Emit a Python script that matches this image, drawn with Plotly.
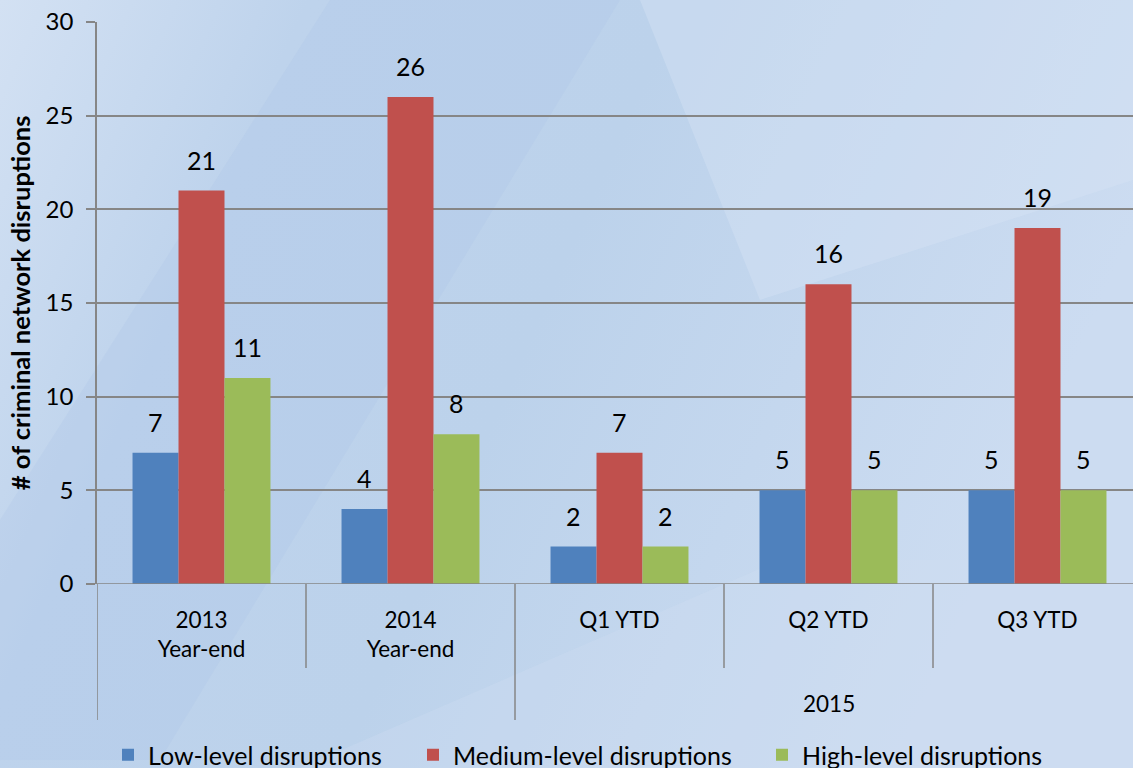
import plotly.graph_objects as go
import base64

categories = ["2013<br>Year-end", "2014<br>Year-end", "Q1 YTD", "Q2 YTD", "Q3 YTD"]
group_label = "2015"
low = [7, 4, 2, 5, 5]
medium = [21, 26, 7, 16, 19]
high = [11, 8, 2, 5, 5]
series_names = ["Low-level disruptions", "Medium-level disruptions", "High-level disruptions"]
colors = ["#4F81BD", "#C0504D", "#9BBB59"]
y_ticks = [0, 5, 10, 15, 20, 25, 30]

FONT = "Lato"
GRID = "#868686"

W, H = 1133, 768
svg = f'''<svg xmlns="http://www.w3.org/2000/svg" width="{W}" height="{H}" viewBox="0 0 {W} {H}">
<defs>
<linearGradient id="g" x1="0" y1="0" x2="1" y2="0.3">
<stop offset="0" stop-color="#d3e1f3"/>
<stop offset="0.25" stop-color="#bed3ec"/>
<stop offset="0.55" stop-color="#bcd2eb"/>
<stop offset="1" stop-color="#ccdcf1"/>
</linearGradient>
</defs>
<rect width="{W}" height="{H}" fill="url(#g)"/>
<polygon points="330,0 620,0 420,330 160,760 0,760 0,520" fill="#aac4e6" opacity="0.25"/>
<polygon points="640,0 1133,0 1133,180 760,300" fill="#d6e3f5" opacity="0.4"/>
<polygon points="300,768 1133,768 1133,560 780,560" fill="#cfdff3" opacity="0.3"/>
</svg>'''
bg_uri = "data:image/svg+xml;base64," + base64.b64encode(svg.encode()).decode()

legend_widths = [260, 304, 240]

fig = go.Figure()
xs = list(range(len(categories)))
for name, vals, col, lw in zip(series_names, [low, medium, high], colors, legend_widths):
    fig.add_trace(go.Bar(x=xs, y=vals, name=name, legendwidth=lw,
                         marker=dict(color=col, line=dict(width=0))))

# value labels above bars
n = 3
gap = 0.34
bw = (1 - gap) / n
for si, vals in enumerate([low, medium, high]):
    for ci, v in enumerate(vals):
        fig.add_annotation(x=ci - (1 - gap) / 2 + bw * (si + 0.5), y=v, xref="x", yref="y",
                           text=str(v), showarrow=False, yanchor="bottom", yshift=14,
                           font=dict(family=FONT, size=25, color="#000"))

# category dividers below axis
for b in [0.5, 2.5, 3.5, 4.5]:
    fig.add_shape(type="line", xref="x", yref="paper", x0=b, x1=b, y0=0, y1=-84 / 562,
                  line=dict(color=GRID, width=1.5))
for b in [-0.5, 1.5]:
    fig.add_shape(type="line", xref="x", yref="paper", x0=b, x1=b, y0=0, y1=-136 / 562,
                  line=dict(color=GRID, width=1.5))

fig.add_annotation(x=3, y=-119 / 562, xref="x", yref="paper", text=group_label, showarrow=False,
                   yanchor="middle", font=dict(family=FONT, size=22.5, color="#000"))

fig.update_layout(
    width=W, height=H,
    margin=dict(l=97, r=0, t=22, b=184, autoexpand=False),
    paper_bgcolor="#c4d7ee", plot_bgcolor="rgba(0,0,0,0)",
    images=[dict(source=bg_uri, xref="paper", yref="paper", x=-97 / 1036, y=1 + 22 / 562,
                 sizex=W / 1036, sizey=H / 562, xanchor="left", yanchor="top",
                 sizing="stretch", layer="below")],
    barmode="group", bargap=gap, bargroupgap=0,
    font=dict(family=FONT, size=24, color="#000"),
    showlegend=True,
    legend=dict(orientation="h", xref="container", yref="container", x=108 / W, xanchor="left",
                y=1 - 755 / H, yanchor="middle",
                font=dict(family=FONT, size=25, color="#000"), bgcolor="rgba(0,0,0,0)",
                traceorder="normal", itemwidth=30),
    xaxis=dict(range=[-0.5, 4.5 - 9 / 209], tickvals=xs, ticktext=categories, ticks="",
               showgrid=False, zeroline=False, showline=False, ticklabelstandoff=20,
               automargin=False,
               tickfont=dict(family=FONT, size=22.5, color="#000"), fixedrange=True),
    yaxis=dict(range=[0, 30], tickvals=y_ticks, showgrid=True, gridcolor=GRID, gridwidth=1.5,
               zeroline=False, showline=True, linecolor=GRID, linewidth=1.5, automargin=False,
               ticks="outside", ticklen=9, tickcolor=GRID, tickwidth=1.5, ticklabelstandoff=8,
               tickfont=dict(family=FONT, size=24, color="#000"),
               title=dict(text="<b># of criminal network disruptions</b>",
                          font=dict(family=FONT, size=25.5, color="#000"), standoff=8),
               fixedrange=True),
)
fig.add_shape(type="line", xref="paper", yref="y", x0=0, x1=1, y0=0, y1=0,
              line=dict(color=GRID, width=1.5), layer="above")

fig.write_html("out.html", config={"displayModeBar": False},
               post_script="document.body.style.margin='0';document.body.style.overflow='hidden';")
